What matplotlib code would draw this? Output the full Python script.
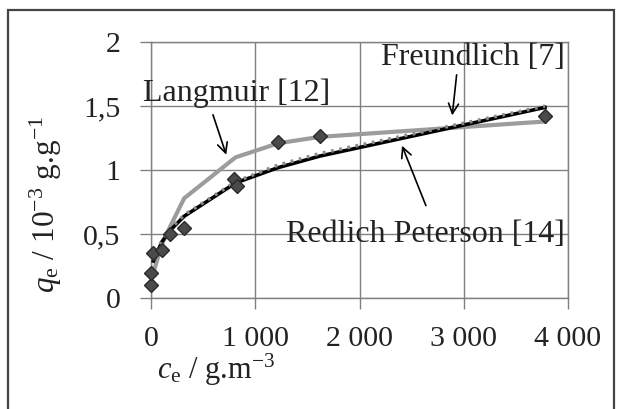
import matplotlib.pyplot as plt
from matplotlib.patches import Rectangle

plt.rcParams["font.family"] = ["Liberation Serif", "DejaVu Serif"]
plt.rcParams["mathtext.fontset"] = "custom"
plt.rcParams["mathtext.rm"] = "Liberation Serif"
plt.rcParams["mathtext.it"] = "Liberation Serif:italic"

# experimental points
ce_exp = [0, 0, 22, 103, 183, 317, 800, 820, 1220, 1620, 3780]
qe_exp = [0.10, 0.20, 0.35, 0.375, 0.505, 0.545, 0.93, 0.88, 1.22, 1.27, 1.42]

# model curves
ce_fit = [22, 103, 183, 317, 810, 1220, 1620, 3780]
q_langmuir = [0.20, 0.42, 0.56, 0.78, 1.10, 1.21, 1.26, 1.38]
q_freundlich = [0.30, 0.45, 0.54, 0.65, 0.91, 1.04, 1.13, 1.50]
q_redlich = [0.29, 0.44, 0.53, 0.64, 0.90, 1.02, 1.11, 1.49]

x_ticks = [0, 1000, 2000, 3000, 4000]
x_labels = ["0", "1 000", "2 000", "3 000", "4 000"]
y_ticks = [0, 0.5, 1, 1.5, 2]
y_labels = ["0", "0,5", "1", "1,5", "2"]

fig = plt.figure(figsize=(6.22, 4.09), dpi=100)
ax = fig.add_axes([0.243, 0.271, 0.670, 0.626])

ax.plot(ce_fit, q_langmuir, color="#9c9c9c", lw=3, zorder=3)
ax.plot(ce_fit, q_redlich, color="black", lw=2.6, zorder=4)
ax.plot(ce_fit, q_freundlich, color="#8a8a8a", lw=2.5, ls=(0, (0.8, 1.6)), zorder=5)
ax.plot(ce_exp, qe_exp, ls="none", marker="D", ms=7.5, mfc="#4a4a4a",
        mec="#2a2a2a", mew=1, zorder=6, clip_on=False)

ax.set_xlim(0, 4000)
ax.set_ylim(0, 2)
ax.set_xticks(x_ticks)
ax.set_xticklabels(x_labels)
ax.set_yticks(y_ticks)
ax.set_yticklabels(y_labels)
ax.grid(True, color="#808080", lw=1)
ax.set_axisbelow(True)
for s in ax.spines.values():
    s.set_color("#808080")
    s.set_linewidth(1)
ax.tick_params(axis="both", direction="out", length=8, width=1, color="#808080",
               labelsize=21.5, labelcolor="#222222")
ax.tick_params(axis="y", pad=14)
ax.tick_params(axis="x", pad=12)

fig.text(0.347, 0.095, r"$c_{\mathrm{e}}$ / g.m$^{-3}$", fontsize=22,
         ha="center", va="center", color="#222222")
fig.text(0.073, 0.500, r"$q_{\mathrm{e}}$ / 10$^{-3}$ g.g$^{-1}$", fontsize=22.5,
         ha="center", va="center", rotation=90, color="#222222")

# labels with arrows
ax.text(825, 1.60, "Langmuir [12]", fontsize=23, ha="center", va="center", color="#222222")
ax.annotate("", xy=(729, 1.10), xytext=(585, 1.453),
            arrowprops=dict(arrowstyle="->", color="black", lw=1.2, mutation_scale=18))
ax.text(3089, 1.883, "Freundlich [7]", fontsize=23, ha="center", va="center",
        color="#222222", zorder=7)
ax.annotate("", xy=(2887, 1.406), xytext=(2935, 1.766),
            arrowprops=dict(arrowstyle="->", color="black", lw=1.2, mutation_scale=18))
ax.text(2628, 0.5, "Redlich Peterson [14]", fontsize=23, ha="center", va="center",
        color="#222222", zorder=7)
ax.annotate("", xy=(2398, 1.211), xytext=(2647, 0.703),
            arrowprops=dict(arrowstyle="->", color="black", lw=1.2, mutation_scale=18))

# outer frame
fig.patches.append(Rectangle((0.0129, -0.05), 0.974, 1.0256, transform=fig.transFigure,
                             fill=False, edgecolor="#444444", lw=1.6))

fig.savefig("out.png", dpi=100)
